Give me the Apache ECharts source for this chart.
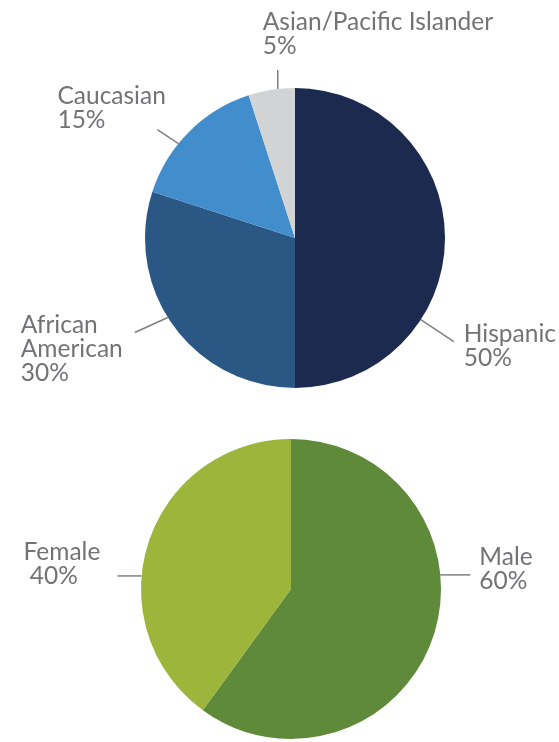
<!DOCTYPE html>
<html>
<head>
<meta charset="utf-8">
<script src="https://cdn.jsdelivr.net/npm/echarts@6/dist/echarts.min.js"></script>
<style>
html, body { margin: 0; padding: 0; background: #fff; }
#chart { width: 559px; height: 742px; }
</style>
</head>
<body>
<div id="chart"></div>
<script>
// data
var raceNames  = ['Hispanic', 'African American', 'Caucasian', 'Asian/Pacific Islander'];
var raceValues = [50, 30, 15, 5];
var raceColors = ['#1b2a4e', '#2a5784', '#428dcc', '#d1d3d4'];

var genderNames  = ['Male', 'Female'];
var genderValues = [60, 40];
var genderColors = ['#5e8a3a', '#9db53b'];

// label placement: angle where the leader touches the pie (deg, clockwise from 12 o'clock),
// leader vector, label offset from the leader end
var raceLabelPos = [
    {angle: 123,   line: [33, 22],   text: [10, -20]},
    {angle: 238,   line: [-33, 15],  text: [-114, -19]},
    {angle: 309,   line: [-21, -14], text: [-100, -46]},
    {angle: 353.4, line: [0, -19],   text: [-15, -60]}
];
var genderLabelPos = [
    {angle: 84.6, line: [30, 0],  text: [9, -30]},
    {angle: 275,  line: [-24, 0], text: [-94, -36]}
];
var centers = [[295, 238], [291, 589]];
var radius  = 150;

var textColor = '#727376';

function makeLayout(idx, pos) {
    return function (params) {
        var p = pos[params.dataIndex];
        var c = centers[idx];
        var a = p.angle * Math.PI / 180;
        var sx = c[0] + radius * Math.sin(a);
        var sy = c[1] - radius * Math.cos(a);
        var ex = sx + p.line[0];
        var ey = sy + p.line[1];
        return {
            x: ex + p.text[0],
            y: ey + p.text[1],
            align: 'left',
            verticalAlign: 'top',
            labelLinePoints: [[sx, sy], [ex, ey], [ex, ey]]
        };
    };
}

function toData(names, values, colors) {
    var out = [];
    for (var i = 0; i < names.length; i++) {
        out.push({name: names[i], value: values[i], itemStyle: {color: colors[i]}});
    }
    return out;
}

function pieSeries(idx, names, values, colors, pos) {
    return {
        type: 'pie',
        center: centers[idx],
        radius: radius,
        startAngle: 90,
        clockwise: true,
        avoidLabelOverlap: false,
        silent: true,
        data: toData(names, values, colors),
        label: {
            show: true,
            position: 'outside',
            overflow: 'none',
            color: textColor,
            fontFamily: 'Lato',
            fontSize: 24.5,
            lineHeight: 24,
            formatter: function (p) {
                var pct = p.value + '%';
                if (p.name == 'Female') pct = ' ' + pct;
                return p.name.replace('African ', 'African\n') + '\n' + pct;
            }
        },
        labelLine: {
            show: true,
            length: 20,
            length2: 0,
            lineStyle: {color: '#7f7f7f', width: 1.5}
        },
        labelLayout: makeLayout(idx, pos)
    };
}

var app = echarts.init(document.getElementById('chart'));
var option = {
    animation: false,
    backgroundColor: '#ffffff',
    series: [
        pieSeries(0, raceNames, raceValues, raceColors, raceLabelPos),
        pieSeries(1, genderNames, genderValues, genderColors, genderLabelPos)
    ]
};
app.setOption(option);
</script>
</body>
</html>
